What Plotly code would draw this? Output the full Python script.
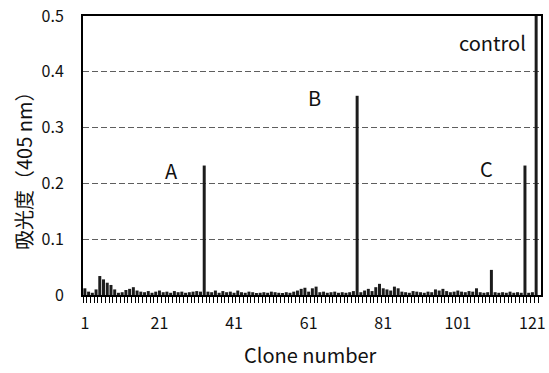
import plotly.graph_objects as go

# Absorbance at 405 nm for each clone; the last entry is the control well
clones = list(range(1, 123))
absorbance = [
    0.012, 0.006, 0.004, 0.010, 0.034, 0.028, 0.022, 0.018, 0.010, 0.004,
    0.005, 0.009, 0.011, 0.014, 0.008, 0.006, 0.005, 0.007, 0.004, 0.006,
    0.008, 0.005, 0.006, 0.004, 0.007, 0.005, 0.006, 0.004, 0.005, 0.006,
    0.007, 0.006, 0.232, 0.006, 0.005, 0.008, 0.004, 0.007, 0.005, 0.006,
    0.004, 0.008, 0.005, 0.004, 0.006, 0.005, 0.003, 0.004, 0.005, 0.004,
    0.006, 0.005, 0.004, 0.003, 0.005, 0.004, 0.006, 0.008, 0.011, 0.013,
    0.006, 0.012, 0.015, 0.005, 0.006, 0.004, 0.005, 0.006, 0.004, 0.005,
    0.004, 0.005, 0.007, 0.357, 0.005, 0.008, 0.011, 0.007, 0.014, 0.020,
    0.012, 0.010, 0.008, 0.015, 0.012, 0.006, 0.005, 0.004, 0.007, 0.006,
    0.005, 0.004, 0.006, 0.005, 0.010, 0.008, 0.011, 0.007, 0.005, 0.006,
    0.008, 0.006, 0.005, 0.007, 0.006, 0.012, 0.005, 0.004, 0.005, 0.045,
    0.005, 0.004, 0.005, 0.004, 0.006, 0.004, 0.005, 0.004, 0.232, 0.004,
    0.005, 0.600,
]

x_tick_values = [1, 21, 41, 61, 81, 101, 121]
y_tick_values = [0, 0.1, 0.2, 0.3, 0.4, 0.5]
y_tick_labels = ["0", "0.1", "0.2", "0.3", "0.4", "0.5"]

# Bar labels: text, clone, and the value the label is centred on
peak_labels = ["A", "B", "C", "control"]
peak_clones = [33, 74, 119, 122]
peak_offsets = [-8.8, -11.4, -10.2, -11.6]   # horizontal label offset (clones)
peak_label_y = [0.223, 0.354, 0.227, 0.452]

FONT = "Noto Sans CJK JP"

fig = go.Figure(
    go.Bar(
        x=clones,
        y=absorbance,
        width=0.8,
        marker=dict(color="#1c1c1c", line=dict(width=0)),
        showlegend=False,
    )
)

for text, c, off, yv in zip(peak_labels, peak_clones, peak_offsets, peak_label_y):
    fig.add_annotation(
        x=c + off, y=yv, xref="x", yref="y", text=text, showarrow=False,
        font=dict(family=FONT, size=20, color="#111"),
        xanchor="center", yanchor="middle",
    )

fig.add_annotation(
    x=-0.130, y=0.464, xref="paper", yref="paper", text="吸光度（405 nm）",
    textangle=-90, showarrow=False, font=dict(family=FONT, size=20, color="#111"),
    xanchor="center", yanchor="middle",
)
fig.add_annotation(
    x=0.497, y=-0.214, xref="paper", yref="paper", text="Clone number",
    showarrow=False, font=dict(family=FONT, size=20, color="#111"),
    xanchor="center", yanchor="middle",
)

fig.update_layout(
    width=549, height=373,
    margin=dict(l=83, r=3, t=15, b=78),
    paper_bgcolor="white", plot_bgcolor="white",
    bargap=0.2,
    font=dict(family=FONT, size=16, color="#111"),
)

fig.update_xaxes(
    range=[0.5, 123.3],
    tickmode="array", tickvals=x_tick_values,
    ticktext=[str(v) for v in x_tick_values],
    ticks="", showgrid=False, zeroline=False,
    showline=True, linewidth=2, linecolor="black", mirror=True,
    ticklabelstandoff=13,
    tickfont=dict(family=FONT, size=16, color="#111"),
    minor=dict(tick0=0.5, dtick=1, ticks="outside", ticklen=6,
               tickwidth=1, tickcolor="black", showgrid=False),
)

fig.update_yaxes(
    range=[0, 0.5],
    tickmode="array", tickvals=y_tick_values, ticktext=y_tick_labels,
    ticks="", zeroline=False,
    showgrid=True, gridcolor="#5e5e5e", gridwidth=1, griddash="6px,3px",
    showline=True, linewidth=2, linecolor="black", mirror=True,
    ticklabelstandoff=14,
    tickfont=dict(family=FONT, size=16, color="#111"),
)

fig.write_html("out.html")
